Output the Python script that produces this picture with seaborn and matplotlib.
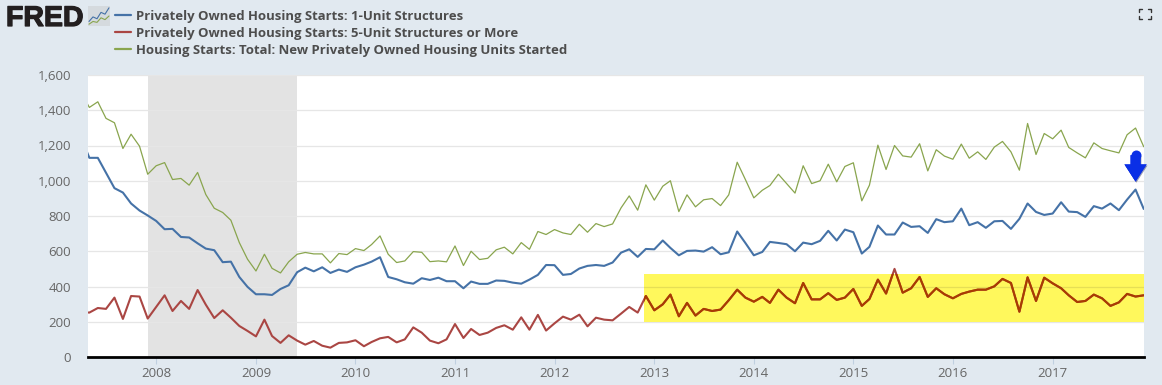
import matplotlib
matplotlib.use("Agg")
import matplotlib.dates as mdates
import matplotlib.patheffects as pe
import matplotlib.pyplot as plt
import matplotlib.ticker as ticker
from matplotlib.patches import Rectangle
from matplotlib.lines import Line2D
import numpy as np
import pandas as pd
import seaborn as sns

W, H = 1162, 385
BG = "#E1E9F0"
BLUE = "#4572A7"
RED = "#AA4643"
GREEN = "#89A54E"

# monthly values, Apr 2007 to Dec 2017 (thousands of units)
total_starts = [
    1500, 1416, 1448, 1354, 1329, 1183, 1264, 1196, 1037,
    1085, 1103, 1007, 1013, 975, 1047, 922, 844, 820, 776, 649, 555,
    488, 583, 503, 477, 540, 583, 593, 585, 585, 534, 587, 581,
    615, 604, 638, 687, 583, 536, 545, 598, 594, 541, 545, 540,
    630, 519, 600, 553, 560, 608, 623, 585, 649, 611, 712, 695,
    723, 704, 695, 753, 708, 757, 740, 755, 846, 914, 833, 977,
    890, 969, 1000, 825, 920, 852, 892, 899, 859, 920, 1105, 1007,
    903, 946, 973, 1037, 984, 930, 1085, 984, 1000, 1094, 994, 1081,
    1102, 886, 975, 1202, 1064, 1200, 1141, 1134, 1210, 1056, 1176, 1140,
    1122, 1208, 1128, 1164, 1121, 1191, 1223, 1164, 1060, 1325, 1149, 1268,
    1238, 1287, 1189, 1158, 1130, 1215, 1183, 1170, 1158, 1261, 1299, 1193,
]
one_unit = [
    1245, 1130, 1130, 1045, 958, 933, 871, 831, 803,
    772, 725, 727, 681, 678, 645, 615, 606, 538, 541, 454, 398,
    356, 356, 352, 386, 407, 481, 507, 486, 509, 477, 496, 483,
    509, 524, 541, 566, 454, 441, 424, 416, 447, 437, 450, 430,
    430, 390, 428, 415, 415, 434, 432, 422, 416, 439, 466, 522,
    521, 466, 471, 502, 517, 522, 517, 536, 592, 611, 568, 613,
    611, 661, 619, 577, 602, 604, 598, 623, 583, 594, 712, 647,
    577, 596, 653, 647, 640, 600, 649, 640, 659, 716, 661, 723,
    708, 587, 625, 746, 695, 695, 763, 738, 742, 704, 782, 765,
    770, 842, 748, 765, 733, 770, 772, 727, 784, 871, 823, 806,
    814, 878, 825, 822, 795, 856, 842, 871, 833, 893, 950, 840,
]
five_unit = [
    255, 252, 278, 273, 337, 216, 346, 343, 218,
    284, 350, 261, 318, 273, 380, 297, 221, 265, 223, 176, 148,
    117, 212, 119, 80, 123, 93, 70, 91, 64, 53, 80, 83,
    95, 61, 85, 106, 114, 83, 100, 168, 138, 93, 78, 100,
    187, 108, 159, 125, 138, 165, 180, 155, 225, 155, 239, 150,
    191, 229, 212, 240, 174, 223, 212, 208, 246, 284, 252, 346,
    265, 299, 354, 231, 307, 235, 273, 261, 269, 322, 382, 337,
    314, 341, 307, 382, 337, 305, 420, 327, 327, 362, 324, 337,
    386, 290, 329, 439, 360, 500, 365, 390, 454, 341, 390, 356,
    333, 358, 371, 382, 382, 401, 443, 420, 257, 452, 318, 450,
    418, 390, 350, 312, 318, 354, 333, 290, 310, 358, 343, 350,
]
dates = pd.date_range("2007-04-01", periods=len(total_starts), freq="MS")

y_ticks = [0, 200, 400, 600, 800, 1000, 1200, 1400, 1600]
year_ticks = list(range(2008, 2018))
recession = ("2007-12-01", "2009-06-01")
highlight_x = ("2012-11-23", "2017-12-02")
highlight_y = (200, 470)

series_names = [
    "Privately Owned Housing Starts: 1-Unit Structures",
    "Privately Owned Housing Starts: 5-Unit Structures or More",
    "Housing Starts: Total: New Privately Owned Housing Units Started",
]

# little chart next to the logo
icon_blue = [1, 2, 1.6, 3, 2.6, 4]
icon_green = [0.4, 1, 0.8, 1.8, 1.4, 2.2]

sns.set_theme(style="white")
plt.rcParams["font.family"] = ["Open Sans", "DejaVu Sans"]

fig = plt.figure(figsize=(W / 100, H / 100), dpi=100, facecolor=BG)
ax = fig.add_axes([88 / W, 1 - 357 / H, (1144 - 88) / W, (357 - 75) / H])
ax.set_facecolor("white")

ax.grid(axis="y", color="#E6E6E6", lw=0.9, zorder=1)
ax.set_axisbelow(True)

# recession band and yellow box sit under the lines
ax.axvspan(pd.Timestamp(recession[0]), pd.Timestamp(recession[1]), color="#E3E3E3", lw=0, zorder=0.5)
x0 = mdates.date2num(pd.Timestamp(highlight_x[0]))
x1 = mdates.date2num(pd.Timestamp(highlight_x[1]))
box = Rectangle((x0, highlight_y[0]), x1 - x0, highlight_y[1] - highlight_y[0],
                facecolor="#FFF85C", edgecolor="none", zorder=1.5)
ax.add_patch(box)

sns.lineplot(x=dates, y=total_starts, color=GREEN, lw=0.9, ax=ax, label=series_names[2], zorder=3)
sns.lineplot(x=dates, y=one_unit, color=BLUE, lw=1.5, ax=ax, label=series_names[0], zorder=4)
sns.lineplot(x=dates, y=five_unit, color=RED, lw=1.5, ax=ax, label=series_names[1], zorder=5)

# red looks burnt orange through the yellow
sns.lineplot(x=dates, y=five_unit, color="#A93C00", lw=1.5, ax=ax, zorder=6)
ax.lines[-1].set_clip_path(box)
grid_in_box = ax.axhline(400, color="#E6DF55", lw=0.9, zorder=2)
grid_in_box.set_clip_path(box)

ax.set_xlim(pd.Timestamp("2007-04-26"), pd.Timestamp(highlight_x[1]))
ax.set_ylim(y_ticks[0], y_ticks[-1])
ax.set_xlabel("")
ax.set_ylabel("")

ax.set_yticks(y_ticks)
ax.yaxis.set_major_formatter(ticker.StrMethodFormatter("{x:,.0f}"))
ax.set_xticks([pd.Timestamp(f"{y}-01-01") for y in year_ticks])
ax.set_xticklabels([str(y) for y in year_ticks])
ax.tick_params(axis="y", length=0, pad=12, labelsize=9.5, labelcolor="#666666")
ax.tick_params(axis="x", length=5, width=0.8, color="#C0D0E0", pad=2, labelsize=9.5, labelcolor="#666666", bottom=True)
for side in ["top", "left", "right"]:
    ax.spines[side].set_visible(False)
ax.spines["bottom"].set_color("black")
ax.spines["bottom"].set_linewidth(2)

# blue arrow over the last peak, with a round cap on its tail
peak = dates[-2]
arrow = ax.annotate("", xy=(peak, 995), xytext=(peak, 1145),
                    arrowprops=dict(arrowstyle="simple,head_length=0.62,head_width=0.8,tail_width=0.36",
                                    mutation_scale=20, color="#0A2FE6", lw=0, shrinkA=0, shrinkB=0),
                    annotation_clip=False, zorder=8)
arrow.arrow_patch.set_path_effects([pe.withSimplePatchShadow(offset=(0.6, -0.8), alpha=0.4), pe.Normal()])
ax.plot([peak], [1145], marker="o", ms=7.2, color="#0A2FE6", mew=0, zorder=8, clip_on=False)

# legend
handles, labels = ax.get_legend_handles_labels()
order = [labels.index(n) for n in series_names]
ax.get_legend().remove()
leg = fig.legend([Line2D([], [], color=handles[i].get_color(), lw=1.6) for i in order],
                 [labels[i] for i in order],
                 loc="upper left", bbox_to_anchor=(115 / W, 1 - 10 / H), bbox_transform=fig.transFigure,
                 frameon=False, prop={"size": 9.43, "weight": "bold"}, labelcolor="#4D4D4D",
                 handlelength=1.22, handletextpad=0.42, labelspacing=0.29, borderpad=0, borderaxespad=0)

# logo
logo = fig.text(6 / W, 1 - 26 / H, "FRED", fontsize=20.5, fontweight="bold", color="#231F20",
                family="Liberation Sans", va="baseline", ha="left")
logo.set_path_effects([pe.withStroke(linewidth=0.9, foreground="#231F20")])
icon = fig.add_axes([88 / W, 1 - 26 / H, 22 / W, 20 / H], facecolor="#D5DADE")
sns.lineplot(x=np.arange(6), y=icon_blue, color=BLUE, lw=0.8, ax=icon)
sns.lineplot(x=np.arange(6), y=icon_green, color=GREEN, lw=0.8, ax=icon)
icon.set_ylim(0, 4.4)
icon.set_xticks([])
icon.set_yticks([])
icon.set_xlabel("")
icon.set_ylabel("")
for s in icon.spines.values():
    s.set_visible(False)

# fullscreen glyph in the top right corner
for cx, sx in [(1139, 1), (1151, -1)]:
    for cy, sy in [(9, 1), (19, -1)]:
        fig.add_artist(Line2D([(cx + sx * 3) / W, cx / W, cx / W],
                              [1 - cy / H, 1 - cy / H, 1 - (cy + sy * 3) / H],
                              color="#333333", lw=1))

fig.savefig("out.png", dpi=100, facecolor=BG)
